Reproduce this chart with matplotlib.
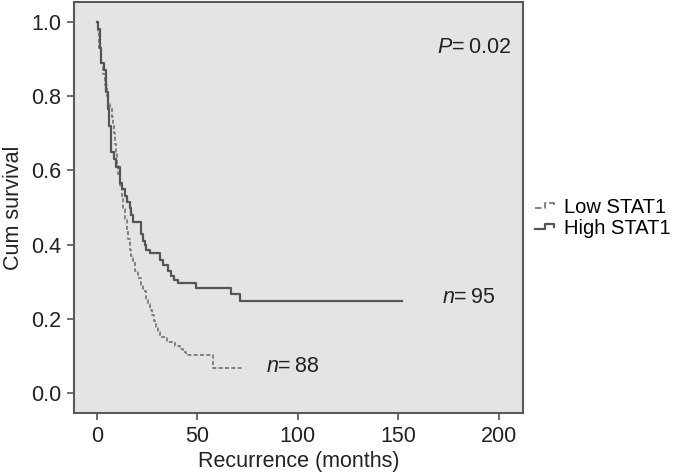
import matplotlib
matplotlib.use("Agg")
import matplotlib.pyplot as plt
from matplotlib.lines import Line2D
from matplotlib.legend_handler import HandlerBase

plt.rcParams['font.family'] = ['Liberation Sans', 'DejaVu Sans']
plt.rcParams['mathtext.fontset'] = 'custom'
plt.rcParams['mathtext.rm'] = 'Liberation Sans'
plt.rcParams['mathtext.it'] = 'Liberation Sans:italic'

# Kaplan-Meier steps (months, cumulative survival)
high_months = [0, 0.6, 1.5, 2.3, 3.5, 4.8, 5.6, 6.3, 7.3, 8.5, 9.8, 11.4, 12.5, 13.9,
               15, 16.4, 17.2, 18, 22, 23, 23.8, 24.7, 26.4, 31.3, 33, 35.5, 37,
               38.5, 40.4, 49.5, 67, 71.5, 152]
high_surv = [1.0, 0.98, 0.93, 0.89, 0.87, 0.81, 0.765, 0.72, 0.65, 0.63, 0.61, 0.567,
             0.55, 0.53, 0.515, 0.50, 0.48, 0.46, 0.43, 0.41, 0.40, 0.386, 0.378, 0.36,
             0.345, 0.33, 0.315, 0.305, 0.298, 0.283, 0.266, 0.249, 0.249]

low_months = [0, 0.5, 1, 2, 3, 4, 5, 5.8, 6.5, 7.5, 8, 8.5, 9, 9.5, 10, 10.6, 11.4,
              12.3, 13, 14, 15, 15.6, 16.4, 17.2, 18, 19, 20.5, 22, 23, 24.7, 25.5,
              26.4, 27.5, 28.5, 29.7, 30.5, 31.3, 34.7, 38.8, 41.3, 43, 44.6, 58, 73]
low_surv = [1.0, 0.97, 0.93, 0.89, 0.86, 0.83, 0.80, 0.78, 0.77, 0.745, 0.72, 0.70,
            0.67, 0.65, 0.62, 0.59, 0.555, 0.525, 0.495, 0.468, 0.44, 0.414, 0.385,
            0.37, 0.355, 0.33, 0.31, 0.29, 0.275, 0.251, 0.24, 0.225, 0.21, 0.195,
            0.179, 0.165, 0.152, 0.139, 0.128, 0.118, 0.11, 0.103, 0.068, 0.068]

x_ticks = [0, 50, 100, 150, 200]
y_ticks = [0.0, 0.2, 0.4, 0.6, 0.8, 1.0]
labels = ["Low STAT1", "High STAT1"]
n_high, n_low = 95, 88
p_value = "0.02"

solid_col = '#555555'
dash_col = '#7a7a7a'
dash_style = (0, (2.2, 1.3))
fs = 15.5


# little step glyph used in the legend instead of a straight line
class StepHandler(HandlerBase):
    def create_artists(self, legend, orig_handle, xdescent, ydescent,
                       width, height, fontsize, trans):
        x0, y0 = -xdescent, -ydescent
        xs = [x0 + 0.1 * width, x0 + 0.5 * width, x0 + 0.5 * width,
              x0 + 0.85 * width, x0 + 0.85 * width]
        ys = [y0 + 0.3 * height, y0 + 0.3 * height, y0 + 0.65 * height,
              y0 + 0.65 * height, y0 + 0.45 * height]
        ln = Line2D(xs, ys, color=orig_handle.get_color(),
                    linestyle=orig_handle.get_linestyle(),
                    linewidth=orig_handle.get_linewidth(), transform=trans)
        return [ln]


fig = plt.figure(figsize=(6.78, 4.76), dpi=100)
ax = fig.add_axes([0.109, 0.132, 0.662, 0.864])
ax.set_facecolor('#e4e4e4')

low_line, = ax.step(low_months, low_surv, where='post', color=dash_col,
                    linewidth=1.3, linestyle=dash_style)
high_line, = ax.step(high_months, high_surv, where='post', color=solid_col,
                     linewidth=1.6)

ax.set_xlim(-11.4, 212)
ax.set_ylim(-0.054, 1.054)
ax.set_xticks(x_ticks)
ax.set_yticks(y_ticks)
ax.set_yticklabels([f"{v:.1f}" for v in y_ticks])
ax.tick_params(direction='out', length=5, width=1.2, color='#555555',
               labelsize=fs, labelcolor='#222222', pad=4)
for s in ax.spines.values():
    s.set_color('#5a5a5a')
    s.set_linewidth(1.5)

ax.set_xlabel("Recurrence (months)", fontsize=fs, color='#222222', labelpad=3)
ax.set_ylabel("Cum survival", fontsize=fs, color='#222222', labelpad=5)

ax.text(169.5, 0.932, f"$P$=\u2009{p_value}", fontsize=fs, va='center', color='#222222')
ax.text(172, 0.257, f"$n$=\u2009{n_high}", fontsize=fs, va='center', color='#222222')
ax.text(84, 0.073, f"$n$=\u2009{n_low}", fontsize=fs, va='center', color='#222222')

ax.legend([low_line, high_line], labels, handler_map={Line2D: StepHandler()},
          loc='upper left', bbox_to_anchor=(0.785, 0.585), bbox_transform=fig.transFigure,
          frameon=False, fontsize=14.5, handlelength=1.3, handletextpad=0.3,
          labelspacing=0.1, borderpad=0, borderaxespad=0)

fig.savefig("out.png", dpi=100)
